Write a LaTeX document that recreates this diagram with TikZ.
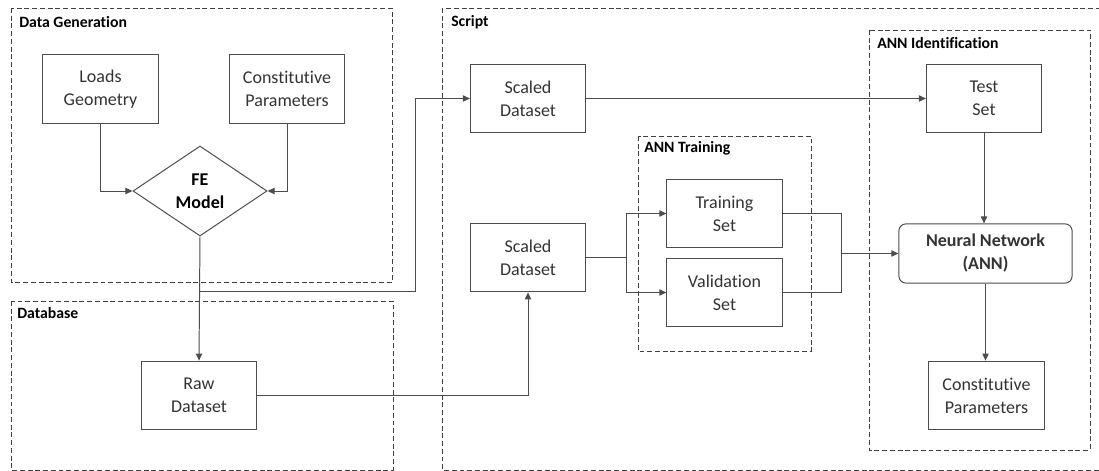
\documentclass[tikz,border=0pt]{standalone}
\usepackage{fontspec}
\setmainfont{Carlito}[RawFeature={-liga;-dlig;-clig;-hlig}]
\usepackage{tikz}
\usetikzlibrary{shapes.geometric, arrows.meta, positioning, calc}

\begin{document}
\begin{tikzpicture}[
    x=0.025cm, y=-0.025cm,
    box/.style={
      rectangle, draw=black!70, line width=0.7pt,
      minimum width=2.88cm, minimum height=1.72cm,
      font=\fontsize{12.8}{16.3}\selectfont, align=center,
      text=black!80, inner sep=2pt
    },
    decision/.style={
      diamond, draw=black!70, line width=0.7pt, inner sep=0pt,
      minimum width=3.35cm, minimum height=2.25cm,
      font=\bfseries\fontsize{12.8}{16.3}\selectfont, align=center
    },
    netbox/.style={
      box, rounded corners=5pt,
      minimum width=4.33cm, minimum height=1.48cm,
      font=\bfseries\fontsize{12.8}{16.3}\selectfont
    },
    group/.style={draw=black!75, line width=0.6pt, dash pattern=on 3.5pt off 2pt},
    grplbl/.style={anchor=base west, inner sep=0pt,
                   font=\bfseries\fontsize{11.2}{13}\selectfont},
    arr/.style={-{Triangle[length=5pt, width=4.5pt]}, line width=0.7pt, draw=black!70},
    wire/.style={line width=0.7pt, draw=black!70},
  ]
  \useasboundingbox (0,0) rectangle (1099,471);

  %% ── Dashed groups ─────────────────────────────────────────────────────
  \draw[group] (11,8)   rectangle (392,282);
  \draw[group] (11,301) rectangle (393,470);
  \draw[group] (442,8)  rectangle (1106,470);
  \draw[group] (638,136) rectangle (811,351);
  \draw[group] (869,30) rectangle (1090,450);

  \node[grplbl] (lblgen)   at (19,27.5)  {Data Generation};
  \node[grplbl] (lbldb)    at (17,319)   {Database};
  \node[grplbl] (lblscr)   at (451,26.5) {Script};
  \node[grplbl] (lbltrain) at (644,153)  {ANN Training};
  \node[grplbl] (lblid)    at (877,49)   {ANN Identification};

  %% ── Data generation ───────────────────────────────────────────────────
  \node[box]      (loads)   at (100.5,89) {Loads\\Geometry};
  \node[box]      (cparams) at (287,89)   {Constitutive\\Parameters};
  \node[decision] (fe)      at (200,191)  {FE\\Model};

  %% ── Database ──────────────────────────────────────────────────────────
  \node[box] (raw) at (199,395.5) {Raw\\Dataset};

  %% ── Script ────────────────────────────────────────────────────────────
  \node[box] (scaledtop) at (528,98.5)  {Scaled\\Dataset};
  \node[box] (scaledbot) at (528,257.5) {Scaled\\Dataset};
  \node[box] (training)   at (724.5,213.5) {Training\\Set};
  \node[box] (validation) at (724.5,292.5) {Validation\\Set};

  \node[box]    (test)  at (984,98.5)    {Test\\Set};
  \node[netbox] (ann)   at (985.5,253.5) {Neural Network\\(ANN)};
  \node[box]    (cpout) at (986.5,395.5) {Constitutive\\Parameters};

  %% ── Joints ────────────────────────────────────────────────────────────
  \coordinate (jfe)    at (200,291);
  \coordinate (jup)    at (415,291);
  \coordinate (jsplit) at (626,257.5);
  \coordinate (jmerge) at (841,253.5);

  %% ── Connectors ────────────────────────────────────────────────────────
  \draw[arr]  (loads.south)   |- (fe.west);
  \draw[arr]  (cparams.south) |- (fe.east);
  \draw[arr]  (fe.south) -- (raw.north);
  \draw[arr]  (jfe) -- (jup) |- (scaledtop.west);
  \draw[arr]  (raw.east) -| (scaledbot.south);
  \draw[arr]  (scaledtop.east) -- (test.west);

  \draw[wire] (scaledbot.east) -- (jsplit);
  \draw[arr]  (jsplit) |- (training.west);
  \draw[arr]  (jsplit) |- (validation.west);

  \draw[wire] (training.east)   -| (jmerge);
  \draw[wire] (validation.east) -| (jmerge);
  \draw[arr]  (jmerge) -- (ann.west);

  \draw[arr]  (test.south) -- (test.south |- ann.north);
  \draw[arr]  (ann.south) -- (ann.south |- cpout.north);

\end{tikzpicture}
\end{document}
